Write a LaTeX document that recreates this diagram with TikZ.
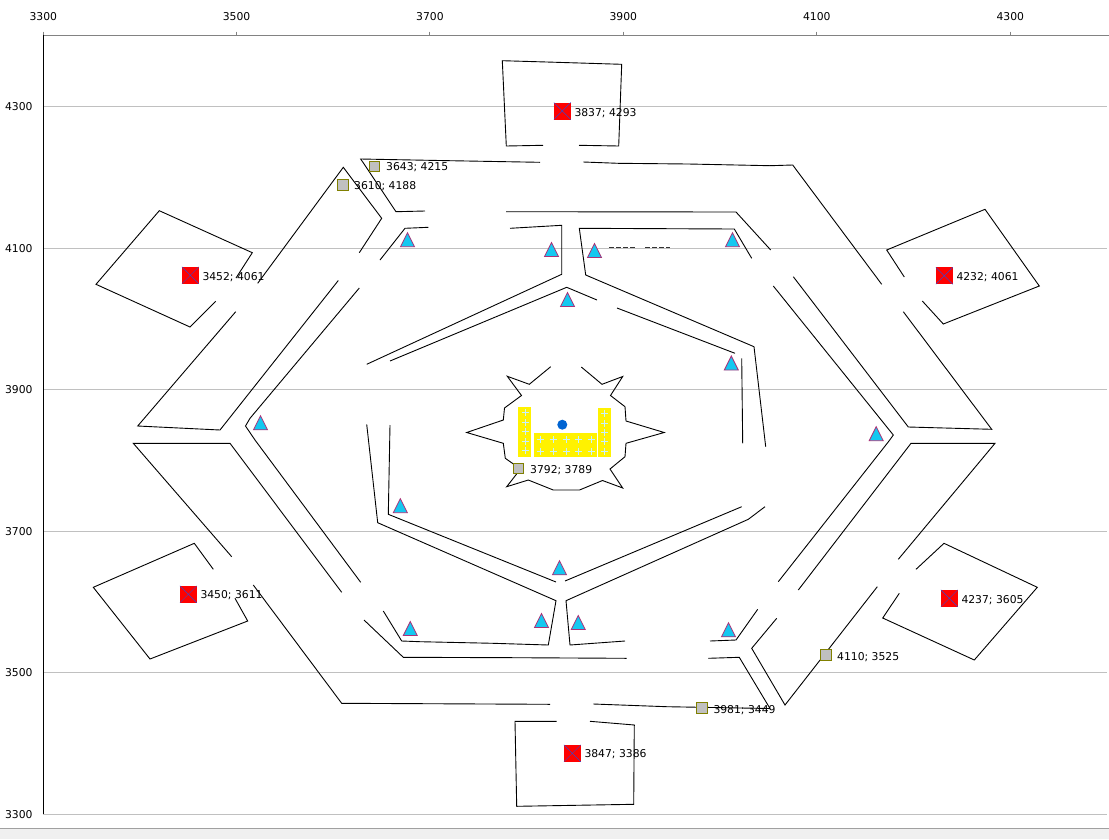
\documentclass[tikz,border=0pt]{standalone}
\usepackage{fontspec}
\setmainfont{DejaVu Sans}
\definecolor{gridc}{RGB}{192,192,192}
\definecolor{axc}{RGB}{130,130,130}
\definecolor{trifill}{RGB}{20,200,240}
\definecolor{tridraw}{RGB}{170,50,120}
\definecolor{xblue}{RGB}{60,70,200}
\definecolor{sqgray}{RGB}{192,192,192}
\definecolor{sqolive}{RGB}{128,128,0}
\definecolor{crossc}{RGB}{200,240,255}
\definecolor{dotblue}{RGB}{0,100,210}
\definecolor{chrome}{RGB}{240,240,240}
\definecolor{chromeline}{RGB}{160,160,160}
\tikzset{
  tri/.pic={\filldraw[fill=trifill,draw=tridraw,line width=0.8pt,line join=miter] (-7,7) -- (7,7) -- (0,-7) -- cycle;},
  ycross/.pic={\draw[crossc,line width=0.8pt] (-3.5,0) -- (3.5,0) (0,-3.5) -- (0,3.5);}
}
\begin{document}
\begin{tikzpicture}[x=1pt,y=-1pt,
  wall/.style={line width=0.9pt,black,line join=miter},
  gridln/.style={line width=0.9pt,gridc},
  lbl/.style={font=\fontsize{10.8pt}{13pt}\selectfont,inner sep=0pt,anchor=base west},
  axlbl/.style={font=\fontsize{10.8pt}{13pt}\selectfont,inner sep=0pt},
  redsq/.style={rectangle,minimum size=17pt,inner sep=0pt,fill=red,
    path picture={\draw[xblue,line width=0.5pt] (path picture bounding box.south west) -- (path picture bounding box.north east) (path picture bounding box.north west) -- (path picture bounding box.south east);}},
  graysq/.style={rectangle,minimum size=10.4pt,inner sep=0pt,fill=sqgray,draw=sqolive,line width=0.9pt}]
\useasboundingbox (0,0) rectangle (1109,839);
\fill[white] (0,0) rectangle (1109,839);
% window chrome at bottom
\fill[chrome] (0,828.5) rectangle (1109,839);
\draw[chromeline,line width=1pt] (0,828.5) -- (1109,828.5);
% grid lines
\foreach \gy in {106.5,248,389.5,531,672.5,814}{\draw[gridln] (43.3,\gy) -- (1107,\gy);}
% axes
\draw[axc,line width=0.9pt] (43.3,35) -- (1109,35);
\foreach \tx in {43.3,236.6,429.9,623.3,816.8,1010.3}{\draw[axc,line width=0.9pt] (\tx,31.5) -- (\tx,35);}
\draw[black,line width=0.9pt] (43.3,35) -- (43.3,814);
\node[axlbl,anchor=base] (tx1) at (43.3,20) {3300};
\node[axlbl,anchor=base] (tx2) at (236.6,20) {3500};
\node[axlbl,anchor=base] (tx3) at (429.9,20) {3700};
\node[axlbl,anchor=base] (tx4) at (623.3,20) {3900};
\node[axlbl,anchor=base] (tx5) at (816.8,20) {4100};
\node[axlbl,anchor=base] (tx6) at (1010.3,20) {4300};
\node[axlbl,anchor=base east] (ty1) at (32.7,110.7) {4300};
\node[axlbl,anchor=base east] (ty2) at (32.7,252.2) {4100};
\node[axlbl,anchor=base east] (ty3) at (32.7,393.7) {3900};
\node[axlbl,anchor=base east] (ty4) at (32.7,535.2) {3700};
\node[axlbl,anchor=base east] (ty5) at (32.7,676.7) {3500};
\node[axlbl,anchor=base east] (ty6) at (32.7,818.2) {3300};
% rooms
\draw[wall] (543,145.3) -- (506.3,146) -- (502.3,60.7) -- (546.7,62) -- (621.7,64.3) -- (618.7,146) -- (579,145.3);
\draw[wall] (556.7,721.3) -- (515,721.3) -- (516.7,806.3) -- (633.7,804.3) -- (634.3,725) -- (590,721.3);
\draw[wall] (215.7,301.3) -- (190,327) -- (96,284.3) -- (159.3,210.7) -- (252.3,252.7) -- (236,278);
\draw[wall] (904.3,277) -- (886.7,250) -- (985,209.3) -- (1039.3,286) -- (943.3,324) -- (922.3,301);
\draw[wall] (213.3,569.3) -- (194.3,543.3) -- (93.3,587.3) -- (150,659) -- (247.7,621) -- (235,598.3);
\draw[wall] (916,569.3) -- (944,543.3) -- (1037.3,587.3) -- (974.3,660) -- (882.7,618) -- (899.3,593.3);
% outer ring walls
\draw[wall] (540,162.3) -- (450,160.7) -- (360.7,159) -- (396,211.7) -- (425,211);
\draw[wall] (257.7,283.3) -- (343.3,167.3) -- (381.7,218.3) -- (359.3,252.7);
\draw[wall] (338.3,280.5) -- (220,430) -- (137.7,426) -- (235.7,311.7);
\draw[wall] (231.7,556.7) -- (133.3,443.3) -- (230,443.3) -- (341.7,592.3);
\draw[wall] (253.3,585) -- (341.7,703.3) -- (550,704.3);
\draw[wall] (593.3,704) -- (666.7,706.7) -- (770,708.5);
\draw[wall] (583.3,162) -- (618.3,163.3) -- (688.3,164) -- (770,165.7) -- (792.7,165) -- (881.7,284.3);
\draw[wall] (903.3,311.7) -- (991.7,429.3) -- (908.3,427) -- (793.3,276.7);
\draw[wall] (770.7,250) -- (736,212) -- (506,211.7);
\draw[wall] (898.3,559.3) -- (995,443.3) -- (911,443.3) -- (798.3,590);
\draw[wall] (776.7,618.3) -- (751.7,648.3) -- (785,705) -- (877.3,586.7);
\draw[wall] (708.3,658.3) -- (739.3,657.3) -- (770,708.5);
\draw[wall] (364,620) -- (403.3,657.3) -- (515,657.7) -- (626.7,658.3);
% second ring walls
\draw[wall] (428.3,227.3) -- (405,228.3) -- (380,260);
\draw[wall] (359.3,288) -- (250,418.3) -- (245.5,426) -- (255,440) -- (360.7,582.3);
\draw[wall] (383.3,611) -- (401.7,641) -- (420,641.7) -- (493.3,643.3) -- (548.3,645) -- (556,600.7) -- (377.7,522.7) -- (366.7,424.3);
\draw[wall] (366.7,364.3) -- (561.7,274.3) -- (561.7,225.3) -- (510,228.3);
\draw[wall] (751.7,258.3) -- (734.3,229) -- (579.3,228.3) -- (585.7,275) -- (754,346.7) -- (765.7,446.7);
\draw[wall] (773.3,286) -- (893.3,435) -- (889,441) -- (778.3,581.7);
\draw[wall] (757.7,609.3) -- (736,640) -- (710,641);
\draw[wall] (625,641) -- (570,645) -- (566,600.7) -- (748.3,519.3) -- (765,506.7);
% inner ring walls
\draw[wall] (390,361) -- (566.7,287.3) -- (597,300);
\draw[wall] (617,308) -- (735,353.3);
\draw[wall] (741.7,358.3) -- (742.7,443.3);
\draw[wall] (741.7,506.7) -- (565,581);
\draw[wall] (556,582) -- (388.3,514.3) -- (390,425);
\draw[line width=0.8pt,black!80,dash pattern=on 5pt off 2pt] (609.3,247.5) -- (636.7,247.5) (645,247.5) -- (670,247.5);
% central star
\draw[wall] (550.7,366.7) -- (529.3,384.3) -- (507.3,376.3) -- (521.5,395.5) -- (504.5,408) -- (503.3,420) -- (466.7,432.5) -- (503.3,443.3) -- (505.3,458.3) -- (520.5,469) -- (506.7,486.7) -- (528.3,480) -- (553.3,490) -- (579.5,490) -- (602.5,480.5) -- (622.7,488) -- (610,469) -- (625,456.7) -- (626,443.3) -- (664.2,432.5) -- (626,421) -- (625,406.7) -- (610.5,395.5) -- (622.7,376.5) -- (602,384.3) -- (581.3,367);
% yellow blocks
\fill[yellow] (518.3,407.3) rectangle (530.7,456.7);
\fill[yellow] (534.3,433.3) rectangle (596.7,457.3);
\fill[yellow] (597.7,408) rectangle (611,457.3);
\foreach \cy in {412,422,431.5,441,450.5}{\pic at (525,\cy) {ycross};}
\foreach \cy in {413,423,432,441.5,451}{\pic at (604.3,\cy) {ycross};}
\foreach \cx in {540,553,566,578.5,591}{\foreach \cy in {439.5,451}{\pic at (\cx,\cy) {ycross};}}
\fill[dotblue] (562.3,424.7) circle (5);
% triangles
\foreach \p in {(407.5,239.7),(551.5,249.5),(594.5,250.5),(732.5,239.7),(567.5,299.5),(731.3,363),(400.3,505.7),(260.5,422.8),(876.2,433.7),(559.5,567.8),(541.5,620.5),(578.2,622.5),(728.5,629.8),(410.3,628.5)}{\pic at \p {tri};}
% red markers
\node[redsq] (r1) at (562.3,111) {};
\node[redsq] (r2) at (190.3,275.3) {};
\node[redsq] (r3) at (944.3,275.7) {};
\node[redsq] (r4) at (188.3,594.3) {};
\node[redsq] (r5) at (949.3,598.3) {};
\node[redsq] (r6) at (572.3,753.3) {};
% gray markers
\node[graysq] (g1) at (374.7,166.3) {};
\node[graysq] (g2) at (343,185) {};
\node[graysq] (g3) at (518.7,468.2) {};
\node[graysq] (g4) at (826,655) {};
\node[graysq] (g5) at (702,708) {};
% labels
\node[lbl] (l1) at (574.3,116) {3837; 4293};
\node[lbl] (l2) at (202.3,280.2) {3452; 4061};
\node[lbl] (l3) at (956.3,280.2) {4232; 4061};
\node[lbl] (l4) at (200.3,598.9) {3450; 3611};
\node[lbl] (l5) at (961.3,603) {4237; 3605};
\node[lbl] (l6) at (584.3,757.7) {3847; 3386};
\node[lbl] (l7) at (386,170.8) {3643; 4215};
\node[lbl] (l8) at (354,189.8) {3610; 4188};
\node[lbl] (l9) at (530,473.3) {3792; 3789};
\node[lbl] (l10) at (837,660) {4110; 3525};
\node[lbl] (l11) at (713.3,713) {3981; 3449};
\end{tikzpicture}
\end{document}
